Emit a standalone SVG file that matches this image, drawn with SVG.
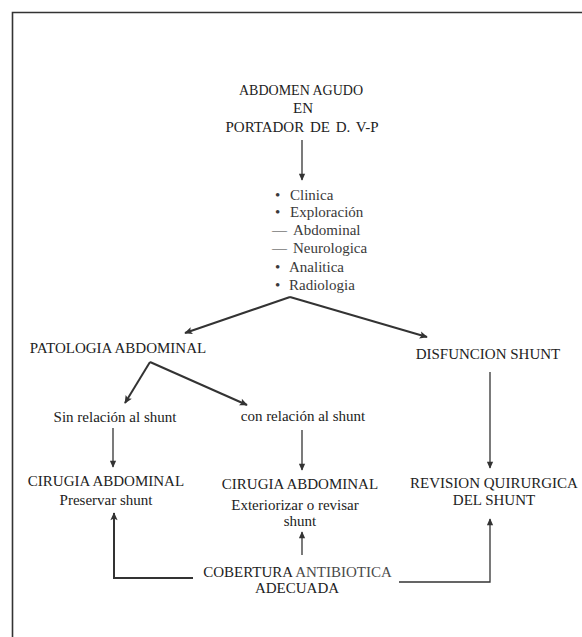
<svg xmlns="http://www.w3.org/2000/svg" width="582" height="637" viewBox="0 0 582 637">
<defs>
<marker id="ah" viewBox="0 0 10 10" refX="9" refY="5" markerWidth="9" markerHeight="7" orient="auto" markerUnits="userSpaceOnUse">
<path d="M0,0.5 L10,5 L0,9.5 z" fill="#333"/>
</marker>
<marker id="ahb" viewBox="0 0 10 10" refX="9" refY="5" markerWidth="12" markerHeight="8" orient="auto" markerUnits="userSpaceOnUse">
<path d="M0,0.5 L10,5 L0,9.5 L2,5 z" fill="#333"/>
</marker>
</defs>
<style>
text{font-family:"Liberation Serif","Times New Roman",serif;font-size:15px;fill:#222;text-anchor:middle}
.l{text-anchor:start;fill:#3a3a3a}
.c{stroke:#333;stroke-width:1.3;fill:none}
.t{stroke-width:2}
</style>
<rect x="0" y="0" width="582" height="637" fill="#fff"/>
<g id="frame">
<path d="M12.5,637 L12.5,12.5 L582,12.5" fill="none" stroke="#333" stroke-width="1.6"/>
</g>
<g id="title">
<text x="301" y="95" style="font-size:14px">ABDOMEN AGUDO</text>
<text x="303" y="113">EN</text>
<text x="302" y="132" word-spacing="2">PORTADOR DE D. V-P</text>
</g>
<g id="list">
<text class="l" x="275" y="200">• <tspan x="290">Clinica</tspan></text>
<text class="l" x="275" y="217">• <tspan x="290">Exploración</tspan></text>
<text class="l" x="272" y="235">— <tspan x="293">Abdominal</tspan></text>
<text class="l" x="272" y="253">— <tspan x="293">Neurologica</tspan></text>
<text class="l" x="275" y="272">• <tspan x="289">Analitica</tspan></text>
<text class="l" x="275" y="290">• <tspan x="289">Radiologia</tspan></text>
</g>
<g id="patologia"><text x="118" y="353">PATOLOGIA ABDOMINAL</text></g>
<g id="disfuncion"><text x="488" y="359">DISFUNCION SHUNT</text></g>
<g id="sin"><text x="115" y="422">Sin relación al shunt</text></g>
<g id="con"><text x="303" y="421">con relación al shunt</text></g>
<g id="cir1"><text x="106" y="486">CIRUGIA ABDOMINAL</text><text x="106" y="505">Preservar shunt</text></g>
<g id="cir2"><text x="300" y="489">CIRUGIA ABDOMINAL</text><text x="295" y="510">Exteriorizar o revisar</text><text x="300" y="526">shunt</text></g>
<g id="revision"><text x="494" y="488">REVISION QUIRURGICA</text><text x="494" y="505">DEL SHUNT</text></g>
<g id="cobertura"><text x="297.5" y="577">COBERTURA <tspan fill="#4a4a4a">ANTIBIOTICA</tspan></text><text x="297" y="593">ADECUADA</text></g>
<g id="connectors">
<line class="c" x1="302" y1="140" x2="302" y2="180" marker-end="url(#ah)"/>
<line class="c t" x1="290" y1="297" x2="185" y2="333" marker-end="url(#ahb)"/>
<line class="c t" x1="290" y1="297" x2="427" y2="337" marker-end="url(#ahb)"/>
<line class="c t" x1="150" y1="362" x2="125" y2="403" marker-end="url(#ahb)"/>
<line class="c t" x1="150" y1="362" x2="247" y2="405" marker-end="url(#ahb)"/>
<line class="c" x1="113" y1="428" x2="113" y2="467" marker-end="url(#ah)"/>
<line class="c" x1="302" y1="430" x2="302" y2="470" marker-end="url(#ah)"/>
<line class="c" x1="490" y1="372" x2="490" y2="468" marker-end="url(#ah)"/>
<path class="c t" d="M193,578 L114,578 L114,513" marker-end="url(#ahb)"/>
<line class="c" x1="302" y1="555" x2="302" y2="532" marker-end="url(#ah)"/>
<path class="c" d="M399,582 L490,582 L490,519" marker-end="url(#ah)"/>
</g>
</svg>
